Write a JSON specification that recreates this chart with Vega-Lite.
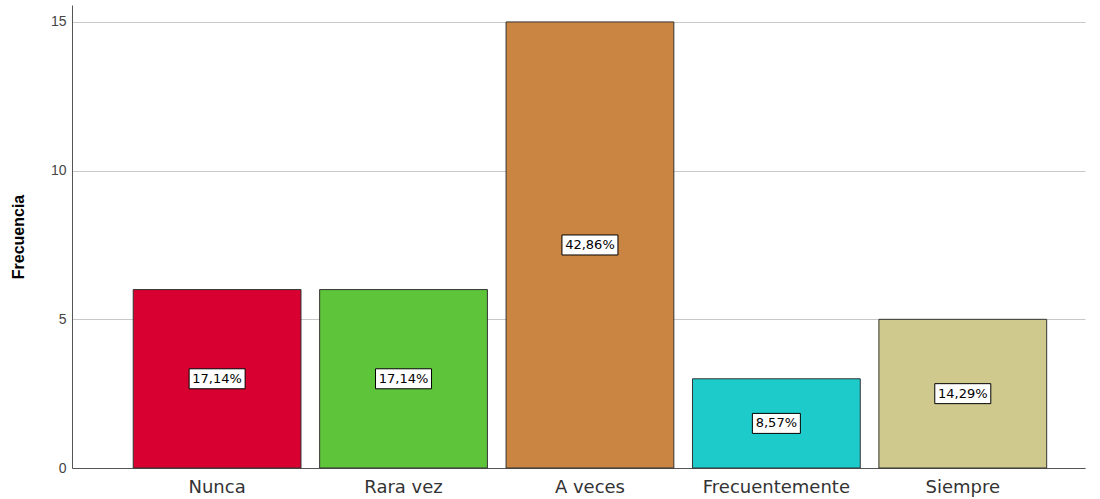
{
  "$schema": "https://vega.github.io/schema/vega-lite/v6.json",
  "autosize": {"type": "none"},
  "padding": {"left": 72, "top": 5, "right": 15, "bottom": 31},
  "width": 1013,
  "height": 463,
  "background": "white",
  "config": {"view": {"stroke": null}},
  "data": {"values": [
    {"cat": "Nunca", "freq": 6, "pct": "17,14%"},
    {"cat": "Rara vez", "freq": 6, "pct": "17,14%"},
    {"cat": "A veces", "freq": 15, "pct": "42,86%"},
    {"cat": "Frecuentemente", "freq": 3, "pct": "8,57%"},
    {"cat": "Siempre", "freq": 5, "pct": "14,29%"}
  ]},
  "transform": [{"calculate": "datum.freq / 2", "as": "mid"}],
  "encoding": {
    "x": {
      "field": "cat", "type": "nominal", "sort": null,
      "scale": {"paddingInner": 0.1, "paddingOuter": 0.267, "align": 0.615},
      "axis": {
        "title": null, "labelAngle": 0, "ticks": false, "labelPadding": 10,
        "labelFont": "DejaVu Sans", "labelFontSize": 18, "labelColor": "#333333",
        "domainColor": "#555555", "domainWidth": 1, "grid": false
      }
    }
  },
  "layer": [
    {
      "mark": {"type": "bar", "stroke": "#333333", "strokeWidth": 1},
      "encoding": {
        "y": {
          "field": "freq", "type": "quantitative",
          "scale": {"domain": [0, 15.57], "nice": false, "zero": true},
          "axis": {
            "values": [0, 5, 10, 15], "ticks": false, "labelPadding": 6,
            "labelFont": "Liberation Sans", "labelFontSize": 14, "labelColor": "#444444",
            "domainColor": "#555555", "gridColor": "#c8c8c8", "grid": true,
            "title": "Frecuencia", "titleFont": "Liberation Sans", "titleFontSize": 16,
            "titleFontWeight": "bold", "titleColor": "#000000", "titlePadding": 24
          }
        },
        "color": {
          "field": "cat", "type": "nominal", "legend": null,
          "scale": {
            "domain": ["Nunca", "Rara vez", "A veces", "Frecuentemente", "Siempre"],
            "range": ["#D70030", "#5EC43A", "#C98541", "#1ECBCB", "#D0C98E"]
          }
        }
      }
    },
    {
      "mark": {"type": "point", "filled": true, "fill": "white", "stroke": "#000000", "strokeWidth": 1, "opacity": 1, "size": 3136},
      "encoding": {
        "y": {"field": "mid", "type": "quantitative"},
        "shape": {
          "field": "cat", "type": "nominal", "legend": null,
          "scale": {
            "domain": ["Nunca", "Rara vez", "A veces", "Frecuentemente", "Siempre"],
            "range": [
              "M-1,-0.357L1,-0.357L1,0.357L-1,0.357Z",
              "M-1,-0.357L1,-0.357L1,0.357L-1,0.357Z",
              "M-1,-0.357L1,-0.357L1,0.357L-1,0.357Z",
              "M-0.857,-0.357L0.857,-0.357L0.857,0.357L-0.857,0.357Z",
              "M-1,-0.357L1,-0.357L1,0.357L-1,0.357Z"
            ]
          }
        }
      }
    },
    {
      "mark": {"type": "text", "font": "DejaVu Sans", "fontSize": 13, "color": "#000000", "baseline": "middle", "align": "center"},
      "encoding": {
        "y": {"field": "mid", "type": "quantitative"},
        "text": {"field": "pct"}
      }
    }
  ]
}
